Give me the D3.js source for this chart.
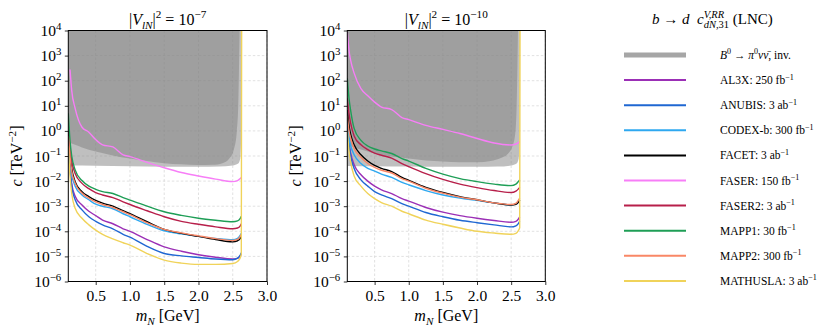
<!DOCTYPE html>
<html><head><meta charset="utf-8">
<script src="https://cdn.jsdelivr.net/npm/d3@7"></script>
<style>body{margin:0;background:#fff}svg{display:block}text{white-space:pre}</style>
</head><body>
<script>
// ---------------- DATA ----------------
const massGrid = [0.1,0.125,0.15,0.2,0.3,0.4,0.5,0.6,0.75,0.9,1.0,1.25,1.5,1.75,2.0,2.25,2.5,2.57,2.61,2.625,2.63];
const xTickValues = [0.5,1.0,1.5,2.0,2.5,3.0];
const yTickExponents = [4,3,2,1,0,-1,-2,-3,-4,-5,-6];
const panelExponents = ["−7","−10"];

const experiments = ["AL3X","ANUBIS","CODEX-b","FACET","FASER","FASER2","MAPP1","MAPP2","MATHUSLA"];
const luminosities = ["250 fb","3 ab","300 fb","3 ab","150 fb","3 ab","30 fb","300 fb","3 ab"];
const colors = ["#9b2fb6","#1f67d2","#2ea8f0","#000000","#f77ef7","#b71f4a","#1e9e56","#f98766","#f0d35a"];

// |V_lN|^2 = 1e-7
const al3x_V7     = [3.2e-1,3.2e-2,7.9e-3,2.5e-3,1.12e-3,6.3e-4,4.2e-4,2.8e-4,2.0e-4,1.26e-4,1.0e-4,4.7e-5,2.4e-5,1.6e-5,1.17e-5,9.3e-6,7.9e-6,8.3e-6,1.05e-5,1.26e-5,null];
const anubis_V7   = [5.0e-1,3.2e-2,6.3e-3,1.8e-3,7.1e-4,3.8e-4,2.5e-4,1.8e-4,1.26e-4,7.6e-5,5.8e-5,2.5e-5,1.3e-5,1.05e-5,9.1e-6,7.9e-6,7.4e-6,8.5e-6,1.12e-5,1.4e-5,null];
const codexb_V7   = [3.2e-1,6.3e-2,1.8e-2,6.3e-3,2.8e-3,1.8e-3,1.2e-3,1.0e-3,7.9e-4,5.0e-4,3.8e-4,1.9e-4,1.05e-4,7.9e-5,6.3e-5,5.2e-5,4.6e-5,5.2e-5,7.1e-5,8.3e-5,null];
const facet_V7    = [1.0e0,1.26e-1,3.2e-2,9.5e-3,3.8e-3,2.4e-3,1.7e-3,1.32e-3,1.0e-3,6.6e-4,5.0e-4,2.4e-4,1.2e-4,8.3e-5,6.3e-5,4.7e-5,3.8e-5,4.2e-5,5.2e-5,6.3e-5,null];
const faser_V7    = [null,2.8e2,4.0e1,7.9e0,1.4e0,8.9e-1,4.5e-1,2.8e-1,2.3e-1,1.12e-1,9.5e-2,5.6e-2,3.4e-2,2.2e-2,1.6e-2,1.2e-2,9.5e-3,1.05e-2,1.26e-2,1.4e-2,null];
const faser2_V7   = [1.0e0,2.0e-1,6.3e-2,2.0e-2,8.1e-3,5.0e-3,3.5e-3,2.8e-3,2.2e-3,1.5e-3,1.17e-3,6.6e-4,3.8e-4,2.5e-4,1.9e-4,1.5e-4,1.26e-4,1.35e-4,1.66e-4,2.0e-4,null];
const mapp1_V7    = [5.0e0,4.0e-1,1.0e-1,2.8e-2,1.05e-2,6.3e-3,4.7e-3,3.8e-3,3.2e-3,2.2e-3,1.75e-3,1.0e-3,6.0e-4,4.3e-4,3.3e-4,2.75e-4,2.4e-4,2.6e-4,3.3e-4,4.0e-4,null];
const mapp2_V7    = [6.3e-1,1.0e-1,2.5e-2,8.3e-3,3.3e-3,2.1e-3,1.48e-3,1.17e-3,8.9e-4,6.0e-4,4.6e-4,2.2e-4,1.2e-4,8.7e-5,6.6e-5,5.1e-5,4.3e-5,4.8e-5,6.3e-5,7.6e-5,null];
const mathusla_V7 = [2.5e-1,1.6e-2,3.2e-3,8.3e-4,3.3e-4,1.8e-4,1.12e-4,7.6e-5,5.0e-5,3.5e-5,2.8e-5,1.3e-5,7.1e-6,5.4e-6,4.8e-6,4.8e-6,5.2e-6,6.3e-6,8.9e-6,1.26e-5,1e4];

// |V_lN|^2 = 1e-10
const al3x_V10     = [2.0e0,3.2e-1,1.26e-1,4.5e-2,1.8e-2,1.0e-2,6.3e-3,4.5e-3,3.2e-3,2.0e-3,1.6e-3,8.9e-4,5.8e-4,4.2e-4,3.3e-4,2.7e-4,2.3e-4,2.5e-4,3.2e-4,3.8e-4,null];
const anubis_V10   = [3.2e0,3.2e-1,1.0e-1,3.2e-2,1.12e-2,6.3e-3,3.8e-3,2.8e-3,2.0e-3,1.26e-3,1.0e-3,5.6e-4,3.8e-4,2.75e-4,2.2e-4,1.8e-4,1.5e-4,1.66e-4,2.1e-4,2.5e-4,null];
const codexb_V10   = [2.0e0,5.0e-1,2.5e-1,1.12e-1,5.0e-2,3.2e-2,2.5e-2,1.9e-2,1.4e-2,8.9e-3,7.1e-3,4.2e-3,2.8e-3,2.1e-3,1.7e-3,1.35e-3,1.12e-3,1.26e-3,1.6e-3,1.8e-3,null];
const facet_V10    = [6.8e0,1.6e0,7.1e-1,2.8e-1,1.12e-1,6.3e-2,4.2e-2,3.2e-2,2.4e-2,1.4e-2,1.07e-2,5.6e-3,3.5e-3,2.4e-3,1.8e-3,1.35e-3,1.12e-3,1.2e-3,1.5e-3,1.8e-3,null];
const faser_V10    = [8.9e3,1.6e3,6.3e2,2.0e2,4.8e1,2.5e1,1.4e1,8.9e0,7.1e0,3.4e0,2.8e0,1.66e0,1.15e0,7.9e-1,5.0e-1,3.3e-1,2.75e-1,3.0e-1,3.5e-1,3.8e-1,null];
const faser2_V10   = [2.0e1,5.0e0,2.0e0,6.3e-1,2.8e-1,1.8e-1,1.3e-1,1.07e-1,8.3e-2,5.0e-2,3.8e-2,2.0e-2,1.17e-2,7.6e-3,5.5e-3,4.2e-3,3.5e-3,4.0e-3,5.0e-3,5.6e-3,null];
const mapp1_V10    = [1.26e2,2.0e1,6.3e0,1.26e0,4.2e-1,2.5e-1,1.9e-1,1.6e-1,1.26e-1,7.9e-2,6.3e-2,3.2e-2,1.9e-2,1.26e-2,9.5e-3,7.6e-3,6.6e-3,7.6e-3,1.0e-2,1.12e-2,null];
const mapp2_V10    = [4.0e0,1.0e0,5.0e-1,2.0e-1,8.9e-2,5.0e-2,3.5e-2,2.7e-2,2.1e-2,1.26e-2,1.0e-2,5.2e-3,3.3e-3,2.3e-3,1.8e-3,1.35e-3,1.17e-3,1.3e-3,1.8e-3,2.1e-3,null];
const mathusla_V10 = [1.0e0,1.6e-1,5.6e-2,1.6e-2,6.3e-3,3.2e-3,2.0e-3,1.4e-3,1.0e-3,6.3e-4,5.0e-4,2.8e-4,1.9e-4,1.35e-4,1.0e-4,8.5e-5,7.6e-5,8.3e-5,1.12e-4,1.4e-4,1e4];

// B0 -> pi0 nu nubar, invisible: excluded region boundaries (region extends up to c = 1e4)
const bandFlatMass   = [0.1,0.5,1.0,1.5,2.0,2.3,2.5,2.58,2.61,2.625,2.63];
const bandFlat_V7    = [4.2e-2,4.1e-2,3.9e-2,3.7e-2,3.7e-2,3.8e-2,4.2e-2,5.0e-2,7.9e-2,1.0e0,1e4];
const bandFlat_V10   = [4.0e-2,3.9e-2,3.8e-2,3.7e-2,3.7e-2,3.8e-2,4.2e-2,5.0e-2,7.9e-2,1.0e0,1e4];
const bandCurveMass  = [0.1,0.2,0.3,0.5,0.75,1.0,1.25,1.5,1.75,2.0,2.2,2.35,2.45,2.52,2.56,2.58,2.6];
const bandCurve_V7   = [3.5e-1,2.8e-1,2.2e-1,1.5e-1,1.05e-1,7.9e-2,6.3e-2,5.2e-2,4.7e-2,4.4e-2,4.5e-2,5.2e-2,7.9e-2,2.0e-1,1.0e0,1.0e1,1e4];
const bandCurve_V10  = [2.8e-1,2.2e-1,1.8e-1,1.26e-1,9.5e-2,7.9e-2,6.6e-2,6.0e-2,5.6e-2,5.6e-2,6.3e-2,8.3e-2,1.2e-1,2.5e-1,7.9e-1,1.0e1,1e4];

const seriesV7  = [al3x_V7, anubis_V7, codexb_V7, facet_V7, faser_V7, faser2_V7, mapp1_V7, mapp2_V7, mathusla_V7];
const seriesV10 = [al3x_V10, anubis_V10, codexb_V10, facet_V10, faser_V10, faser2_V10, mapp1_V10, mapp2_V10, mathusla_V10];

// ---------------- DRAWING ----------------
const W = 831, H = 333;
const SERIF = "'Liberation Serif','DejaVu Serif',serif";
const svg = d3.select("body").append("svg").attr("width", W).attr("height", H)
  .attr("font-family", SERIF);

function rich(text, parts, fs) {
  let cur = 0, prev = null;
  parts.forEach(([s, st]) => {
    const sup = st.includes("^"), sub = st.includes("_");
    const target = sup ? -0.4 * fs : sub ? 0.28 * fs : 0;
    const t = text.append("tspan").text(s).attr("dy", target - cur);
    cur = target;
    if (sup || sub) t.attr("font-size", fs * 0.7);
    if (st.includes("i")) t.attr("font-style", "italic");
    if (st.includes("<") && prev) t.attr("dx", -prev.node().getComputedTextLength());
    prev = t;
  });
}

const panels = [
  {x0: 68.3, x1: 267, data: seriesV7, flat: bandFlat_V7, curve: bandCurve_V7, exp: panelExponents[0]},
  {x0: 347.3, x1: 545.3, data: seriesV10, flat: bandFlat_V10, curve: bandCurve_V10, exp: panelExponents[1]}
];
const yTop = 30.5, yBot = 281.5;
const defs = svg.append("defs");

panels.forEach((p, pi) => {
  const x = d3.scaleLinear().domain([0.1, 3.0]).range([p.x0, p.x1]);
  const y = d3.scaleLog().domain([1e-6, 1e4]).range([yBot, yTop]);
  const g = svg.append("g");
  const clipId = "clip" + pi;
  defs.append("clipPath").attr("id", clipId).append("rect")
    .attr("x", p.x0).attr("y", yTop).attr("width", p.x1 - p.x0).attr("height", yBot - yTop);

  // grid
  const grid = g.append("g").attr("stroke", "#d4d4d4").attr("stroke-width", 0.7).attr("stroke-dasharray", "2.5,2");
  xTickValues.forEach(v => grid.append("line").attr("x1", x(v)).attr("x2", x(v)).attr("y1", yTop).attr("y2", yBot));
  yTickExponents.forEach(e => grid.append("line").attr("x1", p.x0).attr("x2", p.x1).attr("y1", y(Math.pow(10, e))).attr("y2", y(Math.pow(10, e))));

  const plot = g.append("g").attr("clip-path", `url(#${clipId})`);
  // excluded regions
  const area = d3.area().x(d => x(d[0])).y0(y(1e4)).y1(d => y(d[1])).curve(d3.curveMonotoneX);
  plot.append("path").datum(d3.zip(bandFlatMass, p.flat)).attr("d", area)
    .attr("fill", "#808080").attr("fill-opacity", 0.5);
  plot.append("path").datum(d3.zip(bandCurveMass, p.curve)).attr("d", area)
    .attr("fill", "#808080").attr("fill-opacity", 0.5);

  // curves
  const line = d3.line().defined(d => d[1] != null).x(d => x(d[0])).y(d => y(d[1])).curve(d3.curveMonotoneX);
  p.data.forEach((s, i) => {
    plot.append("path").datum(d3.zip(massGrid, s)).attr("d", line)
      .attr("fill", "none").attr("stroke", colors[i]).attr("stroke-width", 1.4).attr("stroke-linejoin", "round");
  });

  // axes
  const xa = g.append("g").attr("transform", `translate(0,${yBot})`)
    .call(d3.axisBottom(x).tickValues(xTickValues).tickFormat(d3.format(".1f")).tickSizeOuter(0).tickSize(3.5).tickPadding(5));
  xa.select(".domain").remove();
  xa.selectAll("text").attr("font-family", SERIF).attr("font-size", 15.5).attr("fill", "#000");
  xa.selectAll("line").attr("stroke-width", 0.8);

  const ya = g.append("g").attr("transform", `translate(${p.x0},0)`)
    .call(d3.axisLeft(y).tickValues(yTickExponents.map(e => Math.pow(10, e))).tickFormat("").tickSizeOuter(0).tickSize(3.5));
  ya.select(".domain").remove();
  ya.selectAll("line").attr("stroke-width", 0.8);
  yTickExponents.forEach(e => {
    const t = g.append("text").attr("x", p.x0 - 7).attr("y", y(Math.pow(10, e)) + 5.5)
      .attr("text-anchor", "end").attr("font-size", 15.5);
    rich(t, [["10", ""], [e < 0 ? "−" + (-e) : String(e), "^"]], 15.5);
  });

  // frame
  g.append("rect").attr("x", p.x0).attr("y", yTop).attr("width", p.x1 - p.x0).attr("height", yBot - yTop)
    .attr("fill", "none").attr("stroke", "#000").attr("stroke-width", 1);

  // title
  const tt = g.append("text").attr("x", (p.x0 + p.x1) / 2).attr("y", 24.5).attr("text-anchor", "middle").attr("font-size", 16);
  rich(tt, [["|", ""], ["V", "i"], ["lN", "_i"], ["|", ""], ["2", "^"], [" = 10", ""], [p.exp, "^"]], 16);

  // x label
  const xl = g.append("text").attr("x", (p.x0 + p.x1) / 2).attr("y", 321).attr("text-anchor", "middle").attr("font-size", 16);
  rich(xl, [["m", "i"], ["N", "_i"], [" [GeV]", ""]], 16);

  // y label
  const yl = g.append("text").attr("transform", `translate(${p.x0 - 46},${(yTop + yBot) / 2}) rotate(-90)`)
    .attr("text-anchor", "middle").attr("font-size", 16);
  rich(yl, [["c", "i"], [" [TeV", ""], ["−2", "^"], ["]", ""]], 16);
});

// ---------------- LEGEND ----------------
const lg = svg.append("g");
const lt = lg.append("text").attr("x", 652).attr("y", 23.5).attr("font-size", 15);
rich(lt, [["b", "i"], [" → ", ""], ["d", "i"], ["  ", ""], ["c", "i"], ["V,RR", "^i"], ["dN", "_i<"], [",31", "_"], [" (LNC)", ""]], 15);

const rowY0 = 55, rowDY = 25.1, lx0 = 624, lx1 = 686, ltx = 720, lfs = 11.5;
lg.append("line").attr("x1", lx0).attr("x2", lx1).attr("y1", rowY0).attr("y2", rowY0)
  .attr("stroke", "#a6a6a6").attr("stroke-width", 5);
const t0 = lg.append("text").attr("x", ltx).attr("y", rowY0 + 4).attr("font-size", lfs);
rich(t0, [["B", "i"], ["0", "^"], [" → ", ""], ["π", "i"], ["0", "^"], ["ν", "i"], ["ν\u0304", "i"], [", inv.", ""]], lfs);
experiments.forEach((name, i) => {
  const yy = rowY0 + rowDY * (i + 1);
  lg.append("line").attr("x1", lx0).attr("x2", lx1).attr("y1", yy).attr("y2", yy)
    .attr("stroke", colors[i]).attr("stroke-width", 2);
  const t = lg.append("text").attr("x", ltx).attr("y", yy + 4).attr("font-size", lfs);
  rich(t, [[name + ": " + luminosities[i], ""], ["−1", "^"]], lfs);
});
</script>
</body></html>
